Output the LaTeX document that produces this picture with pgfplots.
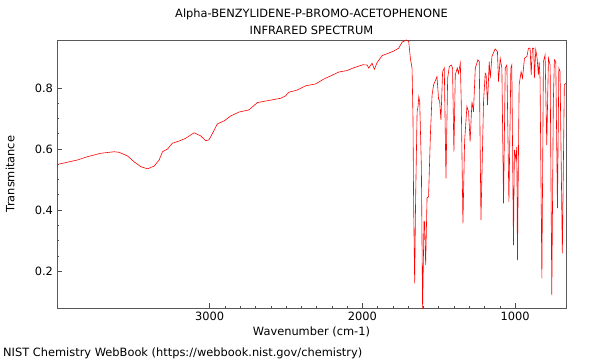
\documentclass[border=0pt]{standalone}
\usepackage{fontspec}
\setmainfont{DejaVu Sans}
\usepackage{pgfplots}
\pgfplotsset{compat=1.18}
\begin{document}
\fontsize{11.4bp}{13bp}\selectfont
\begin{tikzpicture}[x=1bp,y=1bp]
\path[use as bounding box] (0,0) rectangle (600,360);
\begin{axis}[
  at={(57bp,52bp)}, anchor=south west,
  width=509bp, height=268bp, scale only axis,
  x dir=reverse,
  xmin=667, xmax=4000,
  ymin=0.079, ymax=0.957,
  xtick={1000,2000,3000},
  minor x tick num=9,
  ytick={0.2,0.4,0.6,0.8},
  yticklabels={0.2,0.4,0.6,0.8},
  minor y tick num=3,
  tick align=inside,
  xtick pos=bottom, ytick pos=left,
  major tick length=5bp, minor tick length=2.5bp,
  tick style={black!70, line width=0.6bp},
  axis line style={black!65, line width=0.8bp},
  /pgf/number format/assume math mode=true,
  /pgf/number format/1000 sep={},
  ticklabel style={font=\fontsize{11.4bp}{13bp}\selectfont},
  xlabel={Wavenumber (cm-1)},
  ylabel={Transmitance},
  label style={font=\fontsize{11.4bp}{13bp}\selectfont},
  xlabel style={at={(axis description cs:0.5,-0.09)}, anchor=center},
  ylabel style={at={(axis description cs:-0.092,0.5)}, anchor=center, rotate=0},
  clip=true,
]
\addplot[red, line width=0.6bp] coordinates {
(3991,0.550) (3865,0.564) (3799,0.575) (3712,0.586) (3625,0.591) (3593,0.589)
(3538,0.577) (3495,0.558) (3451,0.542) (3407,0.535) (3364,0.544) (3331,0.564)
(3309,0.591) (3276,0.600) (3244,0.619) (3201,0.626) (3157,0.635) (3103,0.653)
(3059,0.643) (3026,0.627) (3005,0.630) (2982,0.651) (2950,0.682) (2906,0.692)
(2863,0.708) (2808,0.721) (2743,0.728) (2688,0.752) (2623,0.758) (2536,0.766)
(2503,0.774) (2482,0.786) (2427,0.793) (2372,0.807) (2307,0.813) (2253,0.829)
(2188,0.844) (2155,0.852) (2100,0.857) (2057,0.866) (1997,0.876) (1969,0.875)
(1959,0.865) (1937,0.881) (1922,0.861) (1904,0.883) (1871,0.906) (1828,0.914)
(1795,0.921) (1763,0.930) (1740,0.950) (1712,0.957) (1697,0.952) (1686,0.897)
(1675,0.864) (1669,0.702) (1665,0.427) (1658,0.160) (1652,0.427) (1642,0.722)
(1636,0.739) (1631,0.771) (1625,0.755) (1614,0.538) (1606,0.070) (1597,0.362)
(1593,0.362) (1586,0.220) (1577,0.439) (1567,0.444) (1555,0.646) (1544,0.777)
(1534,0.810) (1512,0.837) (1501,0.761) (1495,0.761) (1486,0.695) (1475,0.853)
(1464,0.865) (1453,0.504) (1442,0.832) (1431,0.870) (1418,0.875) (1410,0.865)
(1401,0.591) (1392,0.843) (1379,0.865) (1371,0.848) (1359,0.881) (1353,0.755)
(1342,0.356) (1331,0.624) (1316,0.739) (1305,0.722) (1295,0.624) (1283,0.755)
(1273,0.722) (1261,0.865) (1244,0.892) (1235,0.886) (1224,0.367) (1207,0.755)
(1196,0.848) (1190,0.843) (1181,0.744) (1170,0.886) (1163,0.832) (1152,0.903)
(1131,0.928) (1116,0.919) (1109,0.821) (1098,0.897) (1087,0.865) (1076,0.422)
(1065,0.865) (1054,0.875) (1041,0.427) (1028,0.865) (1022,0.875) (1011,0.285)
(1005,0.597) (995,0.565) (989,0.608) (985,0.236) (974,0.810) (961,0.853)
(952,0.832) (939,0.897) (923,0.903) (913,0.930) (902,0.930) (895,0.843)
(887,0.930) (878,0.930) (874,0.832) (865,0.925) (856,0.897) (848,0.843)
(843,0.886) (837,0.832) (825,0.176) (815,0.886) (804,0.908) (793,0.613)
(782,0.897) (771,0.875) (760,0.121) (750,0.755) (743,0.892) (734,0.886)
(723,0.406) (714,0.865) (706,0.854) (691,0.258) (678,0.810) (669,0.815)
};
\end{axis}
\node[align=center, inner sep=0pt, font=\fontsize{11.4bp}{17bp}\selectfont] at (311.5,338.5) {Alpha-BENZYLIDENE-P-BROMO-ACETOPHENONE\\INFRARED SPECTRUM};
\node[anchor=west, inner sep=0pt] at (3,7) {NIST Chemistry WebBook (https://webbook.nist.gov/chemistry)};
\end{tikzpicture}
\end{document}
